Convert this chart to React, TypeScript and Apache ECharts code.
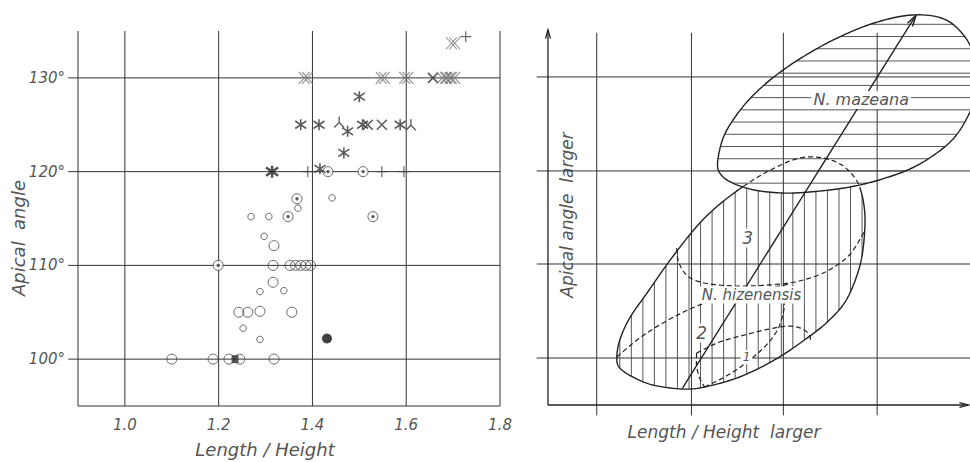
import React, { useEffect, useRef } from 'react';
import * as echarts from 'echarts';

// ---------- Left panel: Length/Height vs apical angle ----------
const xTickValues = [1.0, 1.2, 1.4, 1.6, 1.8];
const yTickValues = [100, 110, 120, 130];
const leftXRange = [0.9, 1.8];
const leftYRange = [95, 135];

const smallCircles = [
  [1.297, 113.1], [1.269, 115.2], [1.307, 115.2], [1.369, 116.1], [1.442, 117.2],
  [1.288, 107.2], [1.339, 107.3], [1.252, 103.3], [1.288, 102.1],
];
const largeCircles = [
  [1.318, 112.1], [1.316, 110], [1.352, 110], [1.364, 110], [1.375, 110], [1.386, 110], [1.396, 110],
  [1.316, 108.2], [1.243, 105], [1.262, 105], [1.288, 105.1], [1.356, 105],
  [1.100, 100], [1.188, 100], [1.222, 100], [1.245, 100], [1.318, 100],
];
const dottedCircles = [
  [1.367, 117.1], [1.348, 115.2], [1.529, 115.2], [1.433, 120], [1.508, 120], [1.199, 110],
];
const filledCircles = [[1.431, 102.2]];
const filledSquares = [[1.235, 100]];
const asterisks = [
  [1.416, 120.3], [1.375, 125], [1.414, 125], [1.475, 124.3], [1.507, 125],
  [1.587, 125], [1.467, 122], [1.50, 128],
];
const boldAsterisks = [[1.314, 120]];
const crosses = [[1.518, 125], [1.548, 125], [1.657, 130]];
const pluses = [[1.390, 120], [1.548, 120], [1.595, 120], [1.727, 134.4]];
const triads = [[1.457, 125.3], [1.61, 125]];
const doubleCrosses = [
  [1.386, 130], [1.55, 130], [1.60, 130], [1.68, 130], [1.69, 130], [1.70, 130], [1.70, 133.7],
];

// ---------- Right panel: schematic (arbitrary units) ----------
const rightGridX = [0.52, 1.53, 2.51, 3.51];
const rightGridY = [0.5, 1.5, 2.49, 3.49];
const rightVExtent = [-0.11, 3.96];
const rightHExtent = [-0.12, 4.5];
const rightAxisEnd = [4.48, 3.99];

const mazeanaOutline = [
  [1.809, 2.585], [1.872, 2.851], [2.011, 3.085], [2.191, 3.298], [2.436, 3.511], [2.734, 3.713],
  [3.085, 3.904], [3.479, 4.064], [3.883, 4.149], [4.223, 4.106], [4.447, 3.915], [4.564, 3.649],
  [4.574, 3.351], [4.468, 3.053], [4.277, 2.787], [3.926, 2.543], [3.532, 2.394], [3.160, 2.309],
  [2.787, 2.266], [2.500, 2.255], [2.202, 2.287], [1.968, 2.362], [1.840, 2.457],
];
const hizenensisOutline = [
  [0.734, 0.500], [0.766, 0.691], [0.872, 0.926], [1.064, 1.202], [1.351, 1.606], [1.670, 1.989],
  [2.043, 2.298], [2.436, 2.532], [2.755, 2.638], [3.074, 2.585], [3.287, 2.394], [3.372, 2.106],
  [3.372, 1.777], [3.319, 1.457], [3.181, 1.117], [2.979, 0.883], [2.734, 0.691], [2.415, 0.479],
  [2.043, 0.298], [1.670, 0.191], [1.426, 0.170], [1.117, 0.213], [0.904, 0.298], [0.766, 0.394],
];
const region3Boundary = [
  [1.372, 1.670], [1.394, 1.521], [1.489, 1.372], [1.670, 1.298], [1.989, 1.266], [2.362, 1.277],
  [2.681, 1.319], [2.979, 1.426], [3.213, 1.596], [3.372, 1.840],
];
const region2Boundary = [
  [0.734, 0.511], [0.979, 0.713], [1.245, 0.883], [1.564, 1.043], [1.883, 1.149], [2.255, 1.223],
  [2.574, 1.287],
];
const region1Top = [
  [1.585, 0.553], [1.830, 0.670], [2.096, 0.745], [2.362, 0.809], [2.574, 0.840], [2.713, 0.809],
  [2.787, 0.745], [2.800, 0.680],
];
const region1Left = [[1.585, 0.553], [1.585, 0.415], [1.617, 0.287], [1.670, 0.191]];
const region1Diag = [
  [1.670, 0.191], [1.883, 0.298], [2.096, 0.436], [2.309, 0.617], [2.447, 0.798], [2.511, 0.989],
  [2.521, 1.138],
];
const trendArrow = [[1.436, 0.181], [3.926, 4.149]];
const shapeLabels = [
  { text: 'N. mazeana', at: [3.34, 3.245], size: 16 },
  { text: 'N. hizenensis', at: [2.17, 1.17], size: 15 },
  { text: '3', at: [2.128, 1.777], size: 17 },
  { text: '2', at: [1.638, 0.766], size: 17 },
  { text: '1', at: [2.117, 0.511], size: 12 },
];

const FONT = '"DejaVu Sans", "Liberation Sans", sans-serif';
const TEXT = '#555';
const INK = '#333';

type Pt = number[];

function catmull(p0: Pt, p1: Pt, p2: Pt, p3: Pt, t: number): Pt {
  const t2 = t * t, t3 = t2 * t;
  const f = (a: number, b: number, c: number, d: number) =>
    0.5 * (2 * b + (-a + c) * t + (2 * a - 5 * b + 4 * c - d) * t2 + (-a + 3 * b - 3 * c + d) * t3);
  return [f(p0[0], p1[0], p2[0], p3[0]), f(p0[1], p1[1], p2[1], p3[1])];
}
function smoothClosed(P: Pt[], seg = 10): Pt[] {
  const n = P.length, out: Pt[] = [];
  for (let i = 0; i < n; i++) {
    const p0 = P[(i - 1 + n) % n], p1 = P[i], p2 = P[(i + 1) % n], p3 = P[(i + 2) % n];
    for (let s = 0; s < seg; s++) out.push(catmull(p0, p1, p2, p3, s / seg));
  }
  return out;
}
function smoothOpen(P: Pt[], seg = 10): Pt[] {
  const n = P.length, out: Pt[] = [];
  for (let i = 0; i < n - 1; i++) {
    const p0 = P[Math.max(i - 1, 0)], p1 = P[i], p2 = P[i + 1], p3 = P[Math.min(i + 2, n - 1)];
    for (let s = 0; s < seg; s++) out.push(catmull(p0, p1, p2, p3, s / seg));
  }
  out.push(P[n - 1]);
  return out;
}
function inside(p: Pt, poly: Pt[]): boolean {
  let c = false;
  for (let i = 0, j = poly.length - 1; i < poly.length; j = i++) {
    const a = poly[i], b = poly[j];
    if ((a[1] > p[1]) !== (b[1] > p[1]) && p[0] < ((b[0] - a[0]) * (p[1] - a[1])) / (b[1] - a[1]) + a[0]) c = !c;
  }
  return c;
}
function spans(poly: Pt[], v: number, vertical: boolean): number[][] {
  const xs: number[] = [];
  const n = poly.length;
  for (let i = 0; i < n; i++) {
    const a = poly[i], b = poly[(i + 1) % n];
    const ai = vertical ? a[0] : a[1], bi = vertical ? b[0] : b[1];
    if ((ai <= v && bi > v) || (bi <= v && ai > v)) {
      const t = (v - ai) / (bi - ai);
      xs.push(vertical ? a[1] + t * (b[1] - a[1]) : a[0] + t * (b[0] - a[0]));
    }
  }
  xs.sort((p, q) => p - q);
  const out: number[][] = [];
  for (let i = 0; i + 1 < xs.length; i += 2) out.push([xs[i], xs[i + 1]]);
  return out;
}
function subtract(iv: number[][], cuts: number[][]): number[][] {
  let res = iv;
  for (const [cs, ce] of cuts) {
    const next: number[][] = [];
    for (const [s, e] of res) {
      if (ce <= s || cs >= e) next.push([s, e]);
      else {
        if (cs > s) next.push([s, cs]);
        if (ce < e) next.push([ce, e]);
      }
    }
    res = next;
  }
  return res;
}
function seg(a: Pt, b: Pt, style: any) {
  return { type: 'line', shape: { x1: a[0], y1: a[1], x2: b[0], y2: b[1] }, style };
}
function head(tip: Pt, from: Pt, len: number, ang: number, style: any) {
  const dx = from[0] - tip[0], dy = from[1] - tip[1];
  const L = Math.hypot(dx, dy), ux = dx / L, uy = dy / L;
  const r = (s: number) => [tip[0] + len * (ux * Math.cos(s) - uy * Math.sin(s)), tip[1] + len * (ux * Math.sin(s) + uy * Math.cos(s))];
  return { type: 'polyline', shape: { points: [r(ang), tip, r(-ang)] }, style };
}

function renderLeftGrid(_p: any, api: any) {
  const c = (p: Pt) => api.coord(p);
  const st = { stroke: INK, lineWidth: 1 };
  const ch: any[] = [];
  [leftXRange[0], ...xTickValues].forEach((x) => ch.push(seg(c([x, leftYRange[0]]), c([x, leftYRange[1]]), st)));
  ch.push(seg(c([leftXRange[0], leftYRange[0]]), c([leftXRange[1], leftYRange[0]]), st));
  yTickValues.forEach((y) => ch.push(seg(c([leftXRange[0] - 0.021, y]), c([leftXRange[1], y]), st)));
  return { type: 'group', children: ch };
}

function renderRight(_p: any, api: any) {
  const c = (p: Pt) => api.coord(p);
  const ch: any[] = [];
  const grid = { stroke: INK, lineWidth: 1 };
  const hatch = { stroke: '#444', lineWidth: 0.9 };
  const solid = { stroke: '#222', lineWidth: 1.4, fill: 'none' };
  const dashed = { stroke: '#222', lineWidth: 1.2, fill: 'none', lineDash: [5, 3] };
  rightGridX.forEach((x) => ch.push(seg(c([x, rightVExtent[0]]), c([x, rightVExtent[1]]), grid)));
  rightGridY.forEach((y) => ch.push(seg(c([rightHExtent[0], y]), c([rightHExtent[1], y]), grid)));
  // axes with arrows
  const o = c([0, 0]), xe = c([rightAxisEnd[0], 0]), ye = c([0, rightAxisEnd[1]]);
  const axisSt = { stroke: '#222', lineWidth: 1.3, fill: 'none' };
  ch.push(seg(o, xe, axisSt), seg(o, ye, axisSt));
  ch.push(head(xe, o, 9, 0.28, axisSt), head(ye, o, 9, 0.28, axisSt));

  const maz = smoothClosed(mazeanaOutline.map(c));
  const hiz = smoothClosed(hizenensisOutline.map(c));
  // vertical hatching in N. hizenensis (outside N. mazeana)
  const stepV = c([0.123, 0])[0] - c([0, 0])[0];
  const x0 = c([rightGridX[0], 0])[0];
  const hx = hiz.map((p) => p[0]);
  const minX = Math.min(...hx), maxX = Math.max(...hx);
  for (let k = Math.ceil((minX - x0) / stepV); x0 + k * stepV < maxX; k++) {
    const x = x0 + k * stepV;
    const iv = subtract(spans(hiz, x, true), spans(maz, x, true));
    iv.forEach(([a, b]) => ch.push(seg([x, a], [x, b], hatch)));
  }
  // horizontal hatching in N. mazeana
  const stepH = c([0, 0])[1] - c([0, 0.13])[1];
  const y0 = c([0, rightGridY[2]])[1];
  const my = maz.map((p) => p[1]);
  const minY = Math.min(...my), maxY = Math.max(...my);
  for (let k = Math.ceil((minY - y0) / stepH); y0 + k * stepH < maxY; k++) {
    const y = y0 + k * stepH;
    spans(maz, y, false).forEach(([a, b]) => ch.push(seg([a, y], [b, y], hatch)));
  }
  // outlines
  ch.push({ type: 'polygon', shape: { points: maz }, style: solid });
  const flags = hiz.map((p) => inside(p, maz));
  let start = flags.findIndex((f, i) => f !== flags[(i - 1 + flags.length) % flags.length]);
  if (start < 0) start = 0;
  let run: Pt[] = [hiz[start]];
  let state = flags[start];
  for (let s = 1; s <= hiz.length; s++) {
    const i = (start + s) % hiz.length;
    run.push(hiz[i]);
    if (flags[i] !== state || s === hiz.length) {
      ch.push({ type: 'polyline', shape: { points: run }, style: state ? dashed : solid });
      run = [hiz[i]];
      state = flags[i];
    }
  }
  [region3Boundary, region2Boundary, region1Top, region1Left, region1Diag].forEach((curve) =>
    ch.push({ type: 'polyline', shape: { points: smoothOpen(curve.map(c)) }, style: dashed })
  );
  // trend arrow
  const a0 = c(trendArrow[0]), a1 = c(trendArrow[1]);
  const arrowSt = { stroke: '#222', lineWidth: 1.4, fill: 'none' };
  ch.push(seg(a0, a1, arrowSt), head(a1, a0, 12, 0.25, arrowSt));
  // labels
  shapeLabels.forEach((l) => {
    const p = c(l.at);
    ch.push({
      type: 'text', x: p[0], y: p[1],
      style: {
        text: l.text, fill: TEXT, fontSize: l.size, fontStyle: 'italic', fontFamily: FONT,
        align: 'center', verticalAlign: 'middle', backgroundColor: '#fff', padding: [1, 2],
      },
    });
  });
  return { type: 'group', children: ch };
}

const P_ASTERISK = 'path://M5 0 L5 10 M1 1.6 L9 8.4 M1 8.4 L9 1.6';
const P_CROSS = 'path://M0 0 L10 10 M0 10 L10 0';
const P_PLUS = 'path://M5 0 L5 10 M0 5 L10 5';
const P_TRIAD = 'path://M5 0 L5 5.5 L0.5 10 M5 5.5 L9.5 10';
const P_DOUBLEX = 'path://M0 0 L10 12 M3 0 L13 12 M0 12 L10 0 M3 12 L13 0';

function scatter(data: number[][], symbol: string, size: any, itemStyle: any, z = 3) {
  return { type: 'scatter', xAxisIndex: 0, yAxisIndex: 0, data, symbol, symbolSize: size, itemStyle, z, silent: true };
}

const labelStyle = { color: TEXT, fontSize: 15, fontStyle: 'italic', fontFamily: FONT };
const titleStyle = (size: number) => ({
  fill: TEXT, fontSize: size, fontStyle: 'italic', fontFamily: FONT,
  align: 'center', verticalAlign: 'middle', textAlign: 'center', textVerticalAlign: 'middle',
});

const option: any = {
  animation: false,
  backgroundColor: '#fff',
  grid: [
    { left: 78, top: 31, width: 422, height: 375 },
    { left: 548 - 0.2 * 94, top: 405 - 4.3 * 94, width: 4.7 * 94, height: 4.5 * 94 },
  ],
  xAxis: [
    {
      type: 'value', gridIndex: 0, min: leftXRange[0], max: leftXRange[1], interval: 0.1,
      axisLine: { show: false }, axisTick: { show: false }, splitLine: { show: false },
      axisLabel: {
        ...labelStyle, margin: 11,
        formatter: (v: number) => {
          const r = Math.round(v * 10);
          return xTickValues.some((t) => Math.round(t * 10) === r) ? (r / 10).toFixed(1) : '';
        },
      },
    },
    { type: 'value', gridIndex: 1, min: -0.2, max: 4.5, show: false },
  ],
  yAxis: [
    {
      type: 'value', gridIndex: 0, min: leftYRange[0], max: leftYRange[1], interval: 5,
      axisLine: { show: false }, axisTick: { show: false }, splitLine: { show: false },
      axisLabel: {
        ...labelStyle, margin: 13,
        formatter: (v: number) => (yTickValues.indexOf(Math.round(v)) >= 0 ? Math.round(v) + '°' : ''),
      },
    },
    { type: 'value', gridIndex: 1, min: -0.2, max: 4.3, show: false },
  ],
  graphic: [
    { type: 'text', x: 265, y: 449, style: { text: 'Length / Height', ...titleStyle(18) } },
    { type: 'text', x: 18, y: 238, rotation: Math.PI / 2, style: { text: 'Apical  angle', ...titleStyle(18) } },
    { type: 'text', x: 724, y: 432, style: { text: 'Length / Height  larger', ...titleStyle(17) } },
    { type: 'text', x: 567, y: 215, rotation: Math.PI / 2, style: { text: 'Apical angle  larger', ...titleStyle(17) } },
  ],
  series: [
    { type: 'custom', xAxisIndex: 0, yAxisIndex: 0, data: [[1, 100]], renderItem: renderLeftGrid, z: 1, silent: true },
    { type: 'custom', xAxisIndex: 1, yAxisIndex: 1, data: [[0, 0]], renderItem: renderRight, z: 1, silent: true },
    scatter(largeCircles, 'circle', 10, { color: 'rgba(0,0,0,0)', borderColor: '#444', borderWidth: 1 }),
    scatter(smallCircles, 'circle', 6.5, { color: 'rgba(0,0,0,0)', borderColor: '#444', borderWidth: 1 }),
    scatter(dottedCircles, 'circle', 10, { color: '#fff', borderColor: '#444', borderWidth: 1 }),
    scatter(dottedCircles, 'circle', 3.4, { color: '#333' }, 4),
    scatter(filledCircles, 'circle', 10, { color: '#111' }),
    scatter(filledSquares, 'rect', [7, 8], { color: '#333' }, 4),
    scatter(asterisks, P_ASTERISK, [11, 11], { color: 'none', borderColor: '#333', borderWidth: 1.6 }),
    scatter(boldAsterisks, P_ASTERISK, [12, 12], { color: 'none', borderColor: '#222', borderWidth: 2.4 }),
    scatter(crosses, P_CROSS, [10, 10], { color: 'none', borderColor: '#333', borderWidth: 1.6 }),
    scatter(pluses, P_PLUS, [11, 11], { color: 'none', borderColor: '#444', borderWidth: 1.2 }),
    scatter(triads, P_TRIAD, [10, 11], { color: 'none', borderColor: '#333', borderWidth: 1.4 }),
    scatter(doubleCrosses, P_DOUBLEX, [14, 12], { color: 'none', borderColor: '#777', borderWidth: 1 }),
  ],
};

export default function App() {
  const ref = useRef<HTMLDivElement>(null);
  useEffect(() => {
    const chart = echarts.init(ref.current as HTMLDivElement, null, { renderer: 'svg' });
    chart.setOption(option);
    return () => chart.dispose();
  }, []);
  return (
    <div
      ref={ref}
      style={{ position: 'fixed', left: 0, top: 0, width: 970, height: 462, background: '#fff' }}
    />
  );
}
